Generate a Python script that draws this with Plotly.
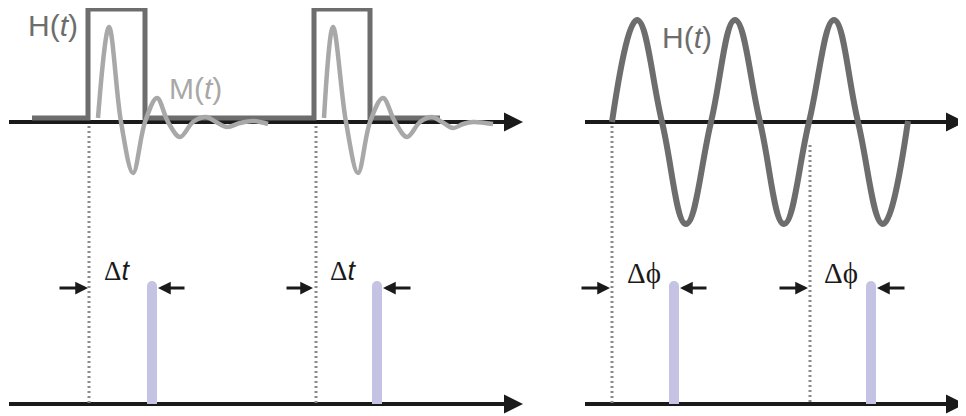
import plotly.graph_objects as go

# ---------------- data (schematic coordinates, px-like units) ----------------
# Left panel: H(t) rectangular pulses
H_pulse_x = [32, 88, 88, 145, 145, 314, 314, 370, 370, 440]
H_pulse_y = [118, 118, 9, 9, 118, 118, 9, 9, 118, 118]

# Left panel: M(t) damped response after each pulse
M1_x = [98, 109, 121, 133, 145, 157, 168, 180, 193, 206, 216, 227, 240, 253, 268]
M1_y = [118, 27, 122, 173, 122, 98, 122, 137, 122, 117, 122, 127, 123, 121, 124]
M2_x = [324, 333, 346, 358, 370, 383, 395, 407, 420, 432, 442, 453, 463, 473, 493]
M2_y = [118, 27, 122, 173, 122, 98, 122, 137, 122, 117, 122, 128, 124, 122, 124]

# Right panel: H(t) sinusoidal drive (extrema and zero crossings)
S_x = [612, 637, 662, 686, 711, 735, 760, 784, 809, 834, 858, 883, 908]
S_y = [122, 20, 122, 224, 122, 20, 122, 224, 122, 20, 122, 224, 121]

# Axes (start x, arrow tip x, y)
axes_x0 = [9, 9, 585, 585]
axes_x1 = [523, 523, 965, 965]
axes_y = [122, 404, 122, 404]

# Dotted reference lines (x, y top, y bottom)
dot_x = [89, 316, 612, 810]
dot_y0 = [126, 126, 126, 145]
dot_y1 = [404, 404, 404, 404]

# Response peaks (lavender bars)
bar_x = [152, 377, 674, 871]
bar_top = [286, 286, 286, 286]
bar_base = [404, 404, 404, 404]

# Delta arrows: (tail x, tip x) at y
arr_tail = [58, 186, 285, 412, 580, 708, 778, 906]
arr_tip = [88, 158, 313, 383, 610, 680, 808, 877]
arr_y = 288

# Labels
SERIF = "font-family:Liberation Serif"
lab_text = ["H(<i>t</i>)", "M(<i>t</i>)", "H(<i>t</i>)",
            f"<span style='{SERIF}'>Δ</span><i>t</i>",
            f"<span style='{SERIF}'>Δ</span><i>t</i>",
            f"<span style='{SERIF}'>Δϕ</span>",
            f"<span style='{SERIF}'>Δϕ</span>"]
lab_x = [26, 167, 660, 102, 328, 625, 822]
lab_y = [25, 88, 37, 271, 271, 273, 273]
lab_size = [30, 30, 30, 27, 27, 29, 29]
lab_color = ["#6d6d6d", "#a8a8a8", "#6d6d6d", "#1a1a1a", "#1a1a1a", "#1a1a1a", "#1a1a1a"]

BLACK = "#1a1a1a"
DARK = "#6d6d6d"
LIGHT = "#a8a8a8"
LAV = "#c5c3e3"
DOT = "#8a8a8a"
PAGE_MARGIN = 8  # default body margin of the html page

fig = go.Figure()

# axis lines (below the curves)
for x0, x1, y in zip(axes_x0, axes_x1, axes_y):
    fig.add_trace(go.Scatter(x=[x0, x1 - 10], y=[y, y], mode="lines",
                             line=dict(color=BLACK, width=4), hoverinfo="skip"))

# dotted lines
for x, y0, y1 in zip(dot_x, dot_y0, dot_y1):
    fig.add_trace(go.Scatter(x=[x, x], y=[y0, y1], mode="lines",
                             line=dict(color=DOT, width=3, dash="2px,3px"), hoverinfo="skip"))

# bars
for x, yt, yb in zip(bar_x, bar_top, bar_base):
    fig.add_trace(go.Scatter(x=[x, x], y=[yb, yt], mode="lines",
                             line=dict(color=LAV, width=10), hoverinfo="skip"))
    fig.add_trace(go.Scatter(x=[x], y=[yt], mode="markers",
                             marker=dict(color=LAV, size=10, line=dict(width=0)), hoverinfo="skip"))

# H pulses
fig.add_trace(go.Scatter(x=H_pulse_x, y=H_pulse_y, mode="lines",
                         line=dict(color=DARK, width=5), hoverinfo="skip"))
# M responses
for mx, my in ((M1_x, M1_y), (M2_x, M2_y)):
    fig.add_trace(go.Scatter(x=mx, y=my, mode="lines",
                             line=dict(color=LIGHT, width=4.5, shape="spline", smoothing=1.0),
                             hoverinfo="skip"))
# sinusoidal H
fig.add_trace(go.Scatter(x=S_x, y=S_y, mode="lines",
                         line=dict(color=DARK, width=6, shape="spline", smoothing=1.2),
                         hoverinfo="skip"))

annotations = []
# axis arrow heads
for x1, y in zip(axes_x1, axes_y):
    annotations.append(dict(x=x1, y=y, ax=x1 - 30, ay=y, xref="x", yref="y",
                            axref="x", ayref="y", text="", showarrow=True,
                            arrowhead=2, arrowwidth=4, arrowsize=0.95,
                            arrowcolor=BLACK, standoff=0))
# small delta arrows
for t0, t1 in zip(arr_tail, arr_tip):
    annotations.append(dict(x=t1, y=arr_y, ax=t0, ay=arr_y, xref="x", yref="y",
                            axref="x", ayref="y", text="", showarrow=True,
                            arrowhead=2, arrowwidth=3, arrowsize=0.85,
                            arrowcolor=BLACK, standoff=0))
# labels
for t, x, y, s, c in zip(lab_text, lab_x, lab_y, lab_size, lab_color):
    annotations.append(dict(x=x, y=y, xref="x", yref="y", text=t, showarrow=False,
                            xanchor="left", yanchor="middle",
                            font=dict(family="Liberation Sans, Arial", size=s, color=c)))

W, H = 966, 416
fig.update_layout(
    width=W - PAGE_MARGIN, height=H - PAGE_MARGIN,
    margin=dict(l=0, r=0, t=0, b=0),
    paper_bgcolor="white", plot_bgcolor="white",
    showlegend=False,
    xaxis=dict(range=[PAGE_MARGIN, W], visible=False, fixedrange=True),
    yaxis=dict(range=[H, PAGE_MARGIN], visible=False, fixedrange=True),
    annotations=annotations,
)

fig.write_html("out.html")
